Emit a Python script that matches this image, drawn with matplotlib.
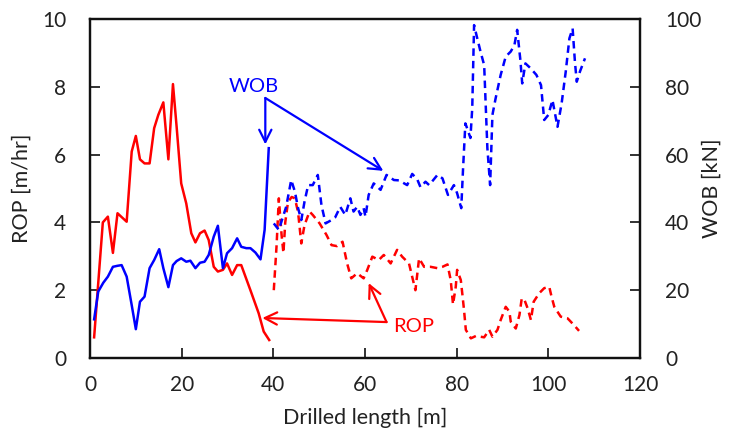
import matplotlib
matplotlib.use("Agg")
import matplotlib.pyplot as plt

plt.rcParams['font.family'] = ['Lato', 'DejaVu Sans']

# ---- data ----
# solid ROP (m/hr)
rop_x1 = [0.9, 2.8, 3.9, 5.0, 6.0, 8.0, 9.1, 10.0, 10.9, 11.9, 13.0, 14.0, 14.9, 16.0, 17.1,
          18.1, 18.9, 19.9, 21.0, 22.1, 23.0, 24.0, 25.0, 25.9, 27.0, 27.9, 29.0, 29.9, 31.0,
          32.1, 33.0, 35.0, 36.8, 37.9, 39.1]
rop_y1 = [0.61, 4.0, 4.17, 3.1, 4.27, 4.02, 6.09, 6.55, 5.86, 5.74, 5.74, 6.78, 7.17, 7.54, 5.86,
          8.08, 6.82, 5.15, 4.56, 3.68, 3.41, 3.68, 3.76, 3.48, 2.69, 2.55, 2.6, 2.79, 2.45,
          2.74, 2.74, 2.0, 1.32, 0.78, 0.53]

# solid WOB (kN)
wob_x1 = [0.9, 1.8, 2.9, 3.9, 5.0, 6.0, 6.9, 8.0, 9.1, 10.0, 10.9, 11.9, 13.0, 14.0, 15.1, 16.0,
          17.1, 18.1, 18.9, 19.9, 21.0, 21.9, 23.0, 24.0, 25.0, 25.9, 27.0, 27.9, 29.0, 29.9,
          31.0, 32.1, 33.0, 34.1, 35.0, 36.1, 37.2, 38.1, 39.0]
wob_y1 = [11.4, 19.6, 22.2, 24.0, 26.9, 27.2, 27.4, 24.0, 15.6, 8.5, 16.6, 18.1, 26.5, 28.9, 32.1,
          26.5, 20.9, 27.4, 28.6, 29.4, 28.4, 28.7, 26.5, 28.1, 28.4, 30.4, 35.8, 39.0, 26.5,
          30.9, 32.4, 35.3, 32.8, 32.4, 32.4, 31.1, 29.1, 37.8, 61.9]

# dashed ROP (m/hr)
rop_x2 = [40.1, 40.7, 41.2, 41.8, 42.2, 42.6, 43.2, 44.0, 44.7, 45.4, 46.1, 46.8, 47.9, 48.6,
          50.1, 51.6, 52.7, 53.9, 55.1, 56.1, 57.0, 58.3, 59.7, 60.5, 61.6, 63.0, 64.1, 65.6,
          67.0, 68.1, 69.6, 71.0, 71.8, 72.9, 74.3, 75.8, 76.9, 78.0, 78.7, 79.2, 79.8, 80.1,
          80.9, 81.3, 81.6, 82.0, 83.1, 84.2, 86.0, 87.1, 87.8, 88.9, 89.6, 90.7, 91.5, 91.8,
          92.9, 93.7, 94.2, 94.8, 95.5, 96.2, 96.8, 98.0, 99.1, 100.2, 100.7, 101.3, 102.7,
          104.2, 105.6, 106.7]
rop_y2 = [2.0, 3.3, 4.71, 3.63, 3.1, 4.0, 4.6, 4.75, 4.71, 4.3, 3.38, 3.92, 4.32, 4.22,
          3.97, 3.63, 3.33, 3.3, 3.43, 2.79, 2.35, 2.5, 2.35, 2.6, 2.99, 2.89, 3.04, 2.79,
          3.19, 2.99, 2.79, 2.0, 2.94, 2.69, 2.69, 2.65, 2.69, 2.76, 2.3, 1.58, 2.1, 2.6,
          2.3, 1.81, 1.42, 0.83, 0.58, 0.65, 0.61, 0.83, 0.63, 0.83, 1.12, 1.51, 1.37, 1.07,
          0.87, 1.27, 1.76, 1.71, 1.46, 1.12, 1.66, 1.91, 2.06, 2.1, 1.81, 1.51, 1.22,
          1.17, 0.97, 0.8]

# dashed WOB (kN)
wob_x2 = [40.1, 41.2, 42.0, 42.8, 43.9, 44.7, 45.4, 46.1, 46.8, 47.6, 48.6, 49.7, 50.5, 51.4,
          52.7, 53.5, 54.6, 55.7, 56.8, 57.5, 58.3, 59.0, 59.7, 60.1, 60.8, 61.9, 63.4, 64.7,
          66.3, 67.4, 69.2, 70.3, 71.4, 72.1, 73.2, 74.0, 75.8, 76.9, 78.1, 79.4, 80.1, 81.0,
          81.4, 81.9, 82.4, 83.0, 83.4, 83.8, 84.4, 85.2, 86.0, 86.7, 87.3, 87.8, 88.5, 89.6,
          90.7, 91.8, 92.6, 93.2, 93.9, 94.3, 95.0, 96.1, 97.4, 98.4, 99.1, 100.0, 100.9,
          102.0, 102.9, 103.8, 104.6, 105.3, 105.8, 106.2, 106.9, 108.0]
wob_y2 = [39.7, 37.8, 41.2, 44.6, 52.5, 49.1, 44.2, 40.7, 46.1, 51.0, 51.0, 54.0, 45.1, 39.7,
          40.7, 41.5, 44.6, 42.2, 47.1, 43.2, 44.6, 42.2, 44.2, 41.7, 48.1, 51.5, 49.6, 54.0,
          52.5, 52.4, 51.0, 54.3, 52.7, 50.4, 52.0, 51.0, 54.0, 53.0, 48.1, 51.0, 48.6, 44.2,
          56.0, 69.2, 67.3, 64.9, 73.7, 98.2, 94.8, 90.4, 86.4, 61.9, 51.0, 71.7, 76.6, 83.5,
          88.9, 90.4, 92.3, 96.8, 87.9, 81.0, 86.9, 85.5, 83.5, 80.5, 70.2, 71.7, 76.1,
          68.2, 75.1, 84.5, 94.3, 97.2, 87.4, 81.5, 84.5, 88.4]

# ---- figure ----
fig = plt.figure(figsize=(7.3, 4.37), dpi=100)
ax1 = fig.add_axes([90/730, 1-358/437, 550/730, 339/437])
ax2 = ax1.twinx()

lw = 1.8
dash = (3.0, 2.0)
ax1.plot(rop_x1, rop_y1, color='#ff0000', lw=lw)
ax1.plot(rop_x2, rop_y2, color='#ff0000', lw=lw, dashes=dash)
ax2.plot(wob_x1, wob_y1, color='#0000ff', lw=lw)
ax2.plot(wob_x2, wob_y2, color='#0000ff', lw=lw, dashes=dash)

ax1.set_xlim(0, 120)
ax1.set_ylim(0, 10)
ax2.set_ylim(0, 100)
ax1.set_xticks(range(0, 121, 20))
ax1.set_yticks(range(0, 11, 2))
ax2.set_yticks(range(0, 101, 20))

tfs = 15
lfs = 15.5
afs = 14.5
txt = '#222222'
for ax in (ax1, ax2):
    ax.tick_params(direction='in', length=7, width=1.3, labelsize=tfs, colors=txt)
    for s in ax.spines.values():
        s.set_linewidth(1.6)
        s.set_color('#111111')
ax1.tick_params(axis='x', pad=12)
ax1.tick_params(axis='y', pad=17)
ax2.tick_params(axis='y', pad=18)

ax1.set_xlabel('Drilled length [m]', fontsize=lfs, color=txt, va='center')
ax1.xaxis.set_label_coords(0.5, (358 - 418) / 339)
ax1.set_ylabel('ROP [m/hr]', fontsize=lfs, color=txt, va='center')
ax1.yaxis.set_label_coords((22 - 90) / 550, 0.5)
ax2.set_ylabel('WOB [kN]', fontsize=lfs, color=txt, va='center')
ax2.yaxis.set_label_coords((712 - 90) / 550, 0.5)

# annotations (placed in ROP-axis coordinates)
arr_b = dict(arrowstyle='->', color='#0000ff', lw=1.6, mutation_scale=22,
             shrinkA=0, shrinkB=0)
arr_r = dict(arrowstyle='->', color='#ff0000', lw=1.6, mutation_scale=22,
             shrinkA=0, shrinkB=0)
ax2.annotate('', xy=(38.25, 6.3), xytext=(38.25, 7.67), xycoords=ax1.transData,
             textcoords=ax1.transData, arrowprops=arr_b)
ax2.annotate('', xy=(64.0, 5.52), xytext=(38.25, 7.67), xycoords=ax1.transData,
             textcoords=ax1.transData, arrowprops=arr_b)
ax2.text(35.8, 8.02, 'WOB', transform=ax1.transData, color='#0000ff', fontsize=afs,
         ha='center', va='center')
ax2.annotate('', xy=(37.6, 1.18), xytext=(64.7, 1.06), xycoords=ax1.transData,
             textcoords=ax1.transData, arrowprops=arr_r)
ax2.annotate('', xy=(60.8, 2.21), xytext=(64.7, 1.06), xycoords=ax1.transData,
             textcoords=ax1.transData, arrowprops=arr_r)
ax2.text(70.6, 0.93, 'ROP', transform=ax1.transData, color='#ff0000', fontsize=afs,
         ha='center', va='center')

fig.savefig('out.png', dpi=100)
